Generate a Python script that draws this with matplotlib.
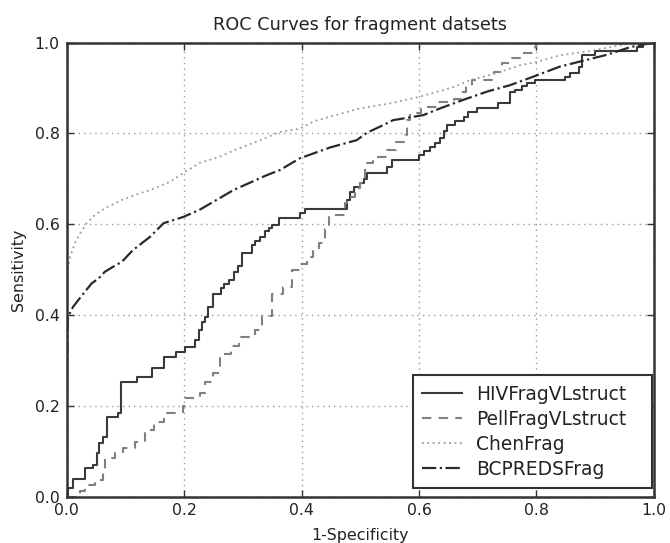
import matplotlib
matplotlib.use("Agg")
import matplotlib.pyplot as plt
from matplotlib.legend_handler import HandlerLine2D

# ROC curves
hiv_fpr = [0.000, 0.003, 0.011, 0.031, 0.045, 0.051, 0.055, 0.062, 0.068, 0.088, 0.092,
           0.119, 0.145, 0.165, 0.187, 0.202, 0.219, 0.225, 0.230, 0.236, 0.240, 0.250,
           0.262, 0.268, 0.276, 0.285, 0.292, 0.298, 0.315, 0.321, 0.330, 0.337, 0.345,
           0.350, 0.361, 0.398, 0.406, 0.477, 0.483, 0.490, 0.500, 0.506, 0.512, 0.545,
           0.554, 0.600, 0.608, 0.619, 0.627, 0.636, 0.642, 0.647, 0.661, 0.676, 0.684,
           0.698, 0.735, 0.755, 0.764, 0.775, 0.784, 0.798, 0.849, 0.857, 0.872, 0.877,
           0.900, 0.971, 0.982, 1.000]
hiv_tpr = [0.000, 0.018, 0.038, 0.062, 0.069, 0.095, 0.117, 0.131, 0.176, 0.185, 0.253,
           0.264, 0.282, 0.308, 0.319, 0.330, 0.345, 0.367, 0.385, 0.396, 0.418, 0.447,
           0.460, 0.469, 0.478, 0.495, 0.507, 0.536, 0.554, 0.562, 0.572, 0.584, 0.591,
           0.598, 0.613, 0.624, 0.633, 0.653, 0.671, 0.681, 0.690, 0.699, 0.712, 0.726,
           0.741, 0.752, 0.760, 0.770, 0.778, 0.789, 0.805, 0.818, 0.828, 0.835, 0.848,
           0.855, 0.867, 0.892, 0.895, 0.904, 0.911, 0.917, 0.925, 0.933, 0.946, 0.972,
           0.982, 0.990, 1.000, 1.000]

pell_fpr = [0.000, 0.023, 0.031, 0.048, 0.062, 0.066, 0.082, 0.096, 0.116, 0.134, 0.148,
            0.165, 0.198, 0.202, 0.227, 0.236, 0.250, 0.261, 0.280, 0.293, 0.321, 0.332,
            0.349, 0.369, 0.384, 0.398, 0.409, 0.420, 0.430, 0.440, 0.446, 0.474, 0.477,
            0.491, 0.500, 0.508, 0.522, 0.546, 0.560, 0.576, 0.579, 0.585, 0.604, 0.630,
            0.659, 0.672, 0.680, 0.690, 0.728, 0.741, 0.757, 0.775, 0.797, 0.800, 1.000]
pell_tpr = [0.000, 0.012, 0.025, 0.036, 0.060, 0.084, 0.095, 0.106, 0.120, 0.146, 0.165,
            0.183, 0.200, 0.218, 0.227, 0.253, 0.272, 0.314, 0.331, 0.352, 0.366, 0.398,
            0.446, 0.462, 0.499, 0.512, 0.528, 0.543, 0.558, 0.590, 0.620, 0.647, 0.660,
            0.679, 0.690, 0.734, 0.748, 0.763, 0.781, 0.796, 0.830, 0.844, 0.858, 0.870,
            0.876, 0.890, 0.905, 0.917, 0.935, 0.954, 0.965, 0.977, 0.990, 1.000, 1.000]

chen_fpr = [0.000, 0.000, 0.001, 0.002, 0.006, 0.014, 0.023, 0.034, 0.048, 0.065, 0.094,
            0.116, 0.142, 0.176, 0.199, 0.227, 0.260, 0.284, 0.330, 0.363, 0.397, 0.420,
            0.449, 0.500, 0.551, 0.596, 0.630, 0.659, 0.687, 0.733, 0.772, 0.800, 0.840,
            0.886, 0.943, 0.971, 1.000]
chen_tpr = [0.000, 0.300, 0.450, 0.500, 0.528, 0.558, 0.580, 0.602, 0.620, 0.635, 0.653,
            0.664, 0.675, 0.693, 0.713, 0.735, 0.748, 0.762, 0.785, 0.803, 0.810, 0.826,
            0.837, 0.855, 0.866, 0.879, 0.891, 0.902, 0.917, 0.933, 0.950, 0.957, 0.972,
            0.980, 0.994, 1.000, 1.000]

bcp_fpr = [0.000, 0.000, 0.002, 0.004, 0.011, 0.020, 0.031, 0.043, 0.054, 0.065, 0.079,
           0.094, 0.113, 0.142, 0.165, 0.199, 0.227, 0.284, 0.341, 0.363, 0.397, 0.449,
           0.494, 0.511, 0.534, 0.556, 0.607, 0.636, 0.676, 0.716, 0.755, 0.795, 0.840,
           0.886, 0.920, 0.960, 0.988, 1.000]
bcp_tpr = [0.000, 0.200, 0.390, 0.400, 0.418, 0.433, 0.451, 0.470, 0.480, 0.495, 0.506,
           0.517, 0.543, 0.572, 0.602, 0.616, 0.632, 0.675, 0.708, 0.719, 0.745, 0.769,
           0.785, 0.801, 0.815, 0.829, 0.840, 0.855, 0.874, 0.892, 0.906, 0.925, 0.947,
           0.962, 0.973, 0.990, 0.997, 1.000]

ticks = [0.0, 0.2, 0.4, 0.6, 0.8, 1.0]


class ShortHandle(HandlerLine2D):
    # old-style legend: the sample line sits in the right part of the handle box
    def create_artists(self, legend, orig_handle, xdescent, ydescent, width,
                       height, fontsize, trans):
        arts = super().create_artists(legend, orig_handle, xdescent, ydescent,
                                      width, height, fontsize, trans)
        for a in arts:
            xd = list(a.get_xdata())
            if len(xd) == 2:
                a.set_xdata([xd[0] + 0.31 * (xd[1] - xd[0]), xd[1]])
        return arts


fig = plt.figure(figsize=(6.7, 5.43), dpi=100)
ax = fig.add_axes([0.0995, 0.0856, 0.8765, 0.8361])

ax.plot(hiv_fpr, hiv_tpr, drawstyle="steps-post", color="#3a3a3a", lw=1.5,
        label="HIVFragVLstruct")
ax.plot(pell_fpr, pell_tpr, drawstyle="steps-post", color="#808080", lw=1.5,
        linestyle=(0, (4.5, 3.5)), label="PellFragVLstruct")
ax.plot(chen_fpr, chen_tpr, color="#9a9a9a", lw=1.3, linestyle=(0, (1, 2)),
        label="ChenFrag")
ax.plot(bcp_fpr, bcp_tpr, color="#2a2a2a", lw=1.6, linestyle="-.",
        label="BCPREDSFrag")

ax.set_xlim(0, 1)
ax.set_ylim(0, 1)
ax.set_xticks(ticks)
ax.set_yticks(ticks)
ax.tick_params(direction="in", length=5, width=1, top=True, right=True,
               labelsize=11.3, colors="#333333", pad=5)
for lab in ax.get_xticklabels() + ax.get_yticklabels():
    lab.set_color("#222222")
ax.grid(True, linestyle=(0, (1, 3)), color="#999999", lw=1)
for sp in ax.spines.values():
    sp.set_linewidth(1.8)
    sp.set_color("#333333")

ax.set_title("ROC Curves for fragment datsets", fontsize=12.7, color="#222222", pad=9)
ax.set_xlabel("1-Specificity", fontsize=11.4, color="#222222", labelpad=7)
ax.set_ylabel("Sensitivity", fontsize=11.4, color="#222222", labelpad=6)

leg = ax.legend(loc="lower left", bbox_to_anchor=(0.5894, 0.018, 0.4072, 0.3),
                mode="expand", fontsize=13.4, handlelength=2.11, handletextpad=0.75,
                labelspacing=0.32, borderpad=0.52, borderaxespad=0,
                fancybox=False, framealpha=1,
                handler_map={plt.Line2D: ShortHandle()})
leg.get_frame().set_edgecolor("#333333")
leg.get_frame().set_linewidth(1.5)
for t in leg.get_texts():
    t.set_color("#222222")

fig.savefig("out.png", dpi=100)
